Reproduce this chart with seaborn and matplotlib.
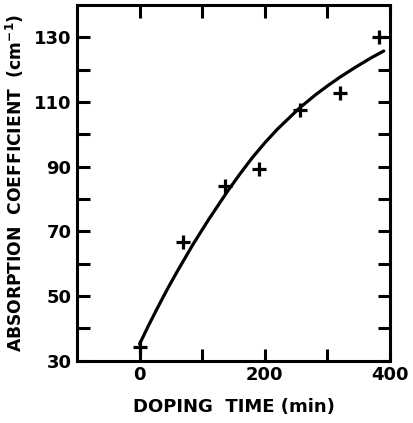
import numpy as np
import pandas as pd
import matplotlib
matplotlib.use('Agg')
import matplotlib.pyplot as plt
import seaborn as sns

# measured points (+ markers)
dope_time = [0, 70, 137, 190, 256, 320, 382]
absorption = [34.3, 66.6, 84.2, 89.2, 107.7, 112.9, 130.0]

# smooth curve
curve_time = [0, 15, 30, 45, 60, 85, 110, 140, 160, 180, 200, 220, 255, 280,
              300, 320, 345, 370, 390]
curve_abs = [35.2, 41.2, 46.9, 52.4, 57.6, 65.9, 73.6, 82.3, 87.7, 92.8, 97.4,
             101.6, 108.1, 112.1, 115.0, 117.7, 120.8, 123.7, 125.8]

x_ticks = [0, 100, 200, 300, 400]
x_labels = ['0', '', '200', '', '400']
y_ticks = [30, 40, 50, 60, 70, 80, 90, 100, 110, 120, 130]
y_labels = ['30', '', '50', '', '70', '', '90', '', '110', '', '130']

pts = pd.DataFrame({'t': dope_time, 'a': absorption})
fit = pd.DataFrame({'t': curve_time, 'a': curve_abs})

sns.set_style('ticks', {'axes.edgecolor': 'black', 'text.color': 'black',
                        'xtick.color': 'black', 'ytick.color': 'black',
                        'axes.labelcolor': 'black'})
plt.rcParams['font.family'] = ['DejaVu Sans']
plt.rcParams['font.weight'] = 'bold'

fig = plt.figure(figsize=(4.14, 4.23), dpi=100)
ax = fig.add_axes([0.186, 0.147, 0.756, 0.841])

sns.lineplot(data=fit, x='t', y='a', ax=ax, color='black', linewidth=2.3)
sns.scatterplot(data=pts, x='t', y='a', ax=ax, marker='+', s=90,
                color='black', linewidth=2.3, zorder=3)

ax.set_xlim(-100, 400)
ax.set_ylim(30, 140)
ax.set_xticks(x_ticks)
ax.set_xticklabels(x_labels)
ax.set_yticks(y_ticks)
ax.set_yticklabels(y_labels)
ax.tick_params(direction='in', length=9, width=2.2, top=True, right=True,
               labelsize=13, pad=4, colors='black')
for lab in ax.get_xticklabels() + ax.get_yticklabels():
    lab.set_fontweight('bold')
for s in ax.spines.values():
    s.set_linewidth(2.2)
    s.set_color('black')

ax.set_xlabel('DOPING  TIME (min)', fontsize=13, fontweight='bold', labelpad=10,
              color='black')
ax.set_ylabel('ABSORPTION  COEFFICIENT  (cm$^{\\mathbf{-1}}$)', fontsize=12.3,
              fontweight='bold', labelpad=6, color='black')

fig.savefig('out.png', dpi=100)
